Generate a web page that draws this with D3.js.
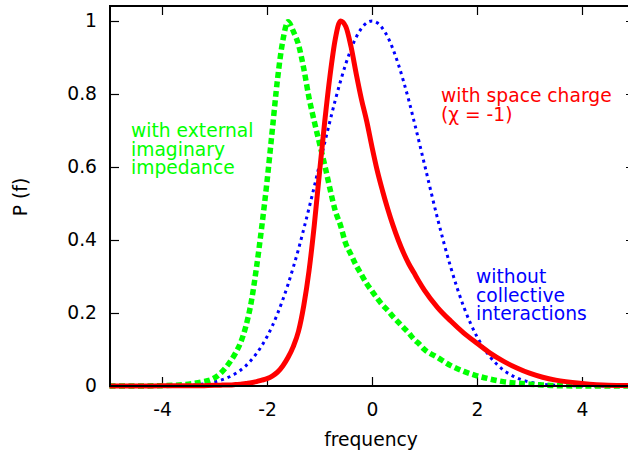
<!DOCTYPE html>
<html>
<head>
<meta charset="utf-8">
<script src="https://cdn.jsdelivr.net/npm/d3@7"></script>
<style>
  html, body { margin: 0; padding: 0; background: #fff; }
  svg { display: block; }
  text { font-family: "DejaVu Sans", sans-serif; }
</style>
</head>
<body>
<svg id="chart" width="628" height="453"></svg>
<script>
// Frequency grid (shared by all series)
const freq = [-5, -4.5, -4, -3.5, -3.25,
  -3.0, -2.9, -2.8, -2.7, -2.6, -2.5, -2.4, -2.3, -2.2, -2.1,
  -2.0, -1.9, -1.8, -1.7, -1.6, -1.5, -1.4, -1.3, -1.2, -1.1,
  -1.0, -0.9, -0.8, -0.7, -0.6, -0.5, -0.4, -0.3, -0.2, -0.1,
  0.0, 0.1, 0.2, 0.3, 0.4, 0.5, 0.6, 0.7, 0.8, 0.9, 1.0,
  1.25, 1.5, 1.75, 2.0, 2.25, 2.5, 2.75, 3.0, 3.25, 3.5, 4.0, 4.5, 5.0];

// "without collective interactions" (blue, dotted)
const withoutCollective = [0, 0, 0.0003, 0.002, 0.005,
  0.011, 0.015, 0.020, 0.026, 0.034, 0.044, 0.056, 0.071, 0.089, 0.110,
  0.135, 0.164, 0.198, 0.236, 0.278, 0.325, 0.375, 0.430, 0.487, 0.546,
  0.607, 0.667, 0.726, 0.783, 0.835, 0.882, 0.923, 0.956, 0.980, 0.995,
  1.000, 0.995, 0.980, 0.956, 0.923, 0.882, 0.835, 0.783, 0.726, 0.667, 0.607,
  0.458, 0.325, 0.216, 0.135, 0.080, 0.044, 0.023, 0.011, 0.005, 0.002, 0.0003, 0, 0];

// "with external imaginary impedance" (green, dashed)
const withImpedance = [0, 0, 0.001, 0.005, 0.011,
  0.022, 0.033, 0.048, 0.067, 0.090, 0.120, 0.165, 0.230, 0.325, 0.436,
  0.560, 0.700, 0.840, 0.945, 0.998, 0.972, 0.935, 0.870, 0.790, 0.725,
  0.665, 0.605, 0.540, 0.480, 0.440, 0.390, 0.360, 0.330, 0.305, 0.280,
  0.260, 0.240, 0.222, 0.207, 0.190, 0.175, 0.160, 0.145, 0.128, 0.115, 0.100,
  0.078, 0.056, 0.040, 0.028, 0.019, 0.012, 0.008, 0.005, 0.003, 0.001, 0, 0, 0];

// "with space charge (χ = -1)" (red, solid)
const withSpaceCharge = [0, 0, 0.0005, 0.001, 0.001,
  0.002, 0.002, 0.003, 0.003, 0.004, 0.005, 0.007, 0.009, 0.012, 0.016,
  0.020, 0.027, 0.038, 0.055, 0.078, 0.108, 0.150, 0.220, 0.315, 0.440,
  0.585, 0.725, 0.850, 0.950, 1.000, 0.985, 0.930, 0.855, 0.785, 0.725,
  0.655, 0.590, 0.535, 0.485, 0.440, 0.400, 0.365, 0.335, 0.310, 0.285, 0.262,
  0.215, 0.178, 0.145, 0.117, 0.090, 0.068, 0.050, 0.035, 0.024, 0.016, 0.007, 0.002, 0.001];

const xTicks = [-4, -2, 0, 2, 4];
const xTickLabels = ["-4", "-2", "0", "2", "4"];
const yTicks = [0, 0.2, 0.4, 0.6, 0.8, 1];
const yTickLabels = ["0", "0.2", "0.4", "0.6", "0.8", "1"];
const xLabel = "frequency";
const yLabel = "P (f)";
const labelImpedance = ["with external", "imaginary", "impedance"];
const labelSpace = ["with space charge", "(\u03C7 = -1)"];
const labelWithout = ["without", "collective", "interactions"];

const svg = d3.select("#chart");
const L = 110, T = 6, R = 635, B = 386;
const x = d3.scaleLinear().domain([-5, 5]).range([109.5, 634.5]);
const y = d3.scaleLinear().domain([0, 380 / 365]).range([B, T]);
const FS = 18.7;

// Axes (inward ticks, mirrored)
const gx = svg.append("g").attr("transform", `translate(0,${B})`)
  .call(d3.axisBottom(x).tickValues(xTicks).tickFormat((d, i) => xTickLabels[i])
    .tickSizeInner(-9).tickSizeOuter(0).tickPadding(17));
const gxt = svg.append("g").attr("transform", `translate(0,${T})`)
  .call(d3.axisTop(x).tickValues(xTicks).tickFormat("")
    .tickSizeInner(-9).tickSizeOuter(0));
const gy = svg.append("g").attr("transform", `translate(${L},0)`)
  .call(d3.axisLeft(y).tickValues(yTicks).tickFormat((d, i) => yTickLabels[i])
    .tickSizeInner(-9).tickSizeOuter(0).tickPadding(13));
const gyr = svg.append("g").attr("transform", `translate(${R},0)`)
  .call(d3.axisRight(y).tickValues(yTicks).tickFormat("")
    .tickSizeInner(-9).tickSizeOuter(0));
[gx, gxt, gy, gyr].forEach(g => {
  g.select(".domain").remove();
  g.selectAll(".tick line").attr("stroke", "#000").attr("stroke-width", 1.2);
  g.selectAll(".tick text").attr("fill", "#000")
    .style("font-family", '"DejaVu Sans", sans-serif').style("font-size", FS + "px");
});

// Curves
const line = d3.line().x((d, i) => x(freq[i])).y(d => y(d)).curve(d3.curveMonotoneX);
svg.append("path").datum(withoutCollective)
  .attr("d", line).attr("fill", "none").attr("stroke", "#0000ff")
  .attr("stroke-width", 3).attr("stroke-dasharray", "3,4");
svg.append("path").datum(withImpedance)
  .attr("d", line).attr("fill", "none").attr("stroke", "#00ff00")
  .attr("stroke-width", 5.5).attr("stroke-dasharray", "6,3.5");
svg.append("path").datum(withSpaceCharge)
  .attr("d", line).attr("fill", "none").attr("stroke", "#ff0000")
  .attr("stroke-width", 5).attr("stroke-linejoin", "round");

// Frame
svg.append("rect").attr("x", L).attr("y", T).attr("width", R - L).attr("height", B - T)
  .attr("fill", "none").attr("stroke", "#000").attr("stroke-width", 2);

// Axis titles
svg.append("text").attr("x", 371).attr("y", 446).attr("text-anchor", "middle")
  .style("font-size", FS + "px").text(xLabel);
svg.append("text").attr("transform", "translate(27,197) rotate(-90)").attr("text-anchor", "middle")
  .style("font-size", FS + "px").text(yLabel);

// Annotations (one text element per line, tightly stacked as in the reference)
function block(lines, x0, y0, color) {
  const g = svg.append("g").attr("fill", color).style("font-size", FS + "px");
  lines.forEach((s, i) => g.append("text").attr("x", x0).attr("y", y0 + i * 18.5).text(s));
}
block(labelImpedance, 131, 137, "#00ff00");
block(labelSpace, 441, 102, "#ff0000");
block(labelWithout, 476, 283, "#0000ff");
</script>
</body>
</html>
